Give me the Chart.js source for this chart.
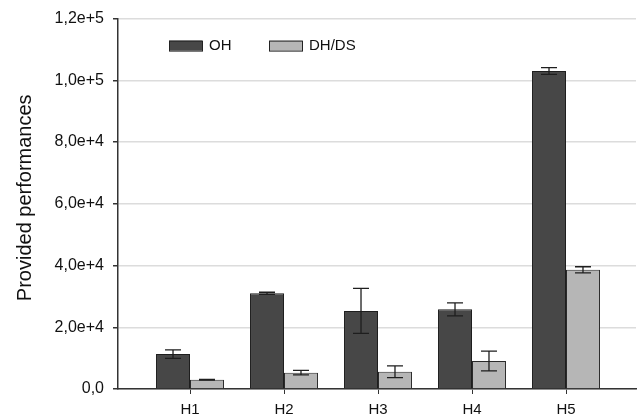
<!DOCTYPE html>
<html>
<head>
<meta charset="utf-8">
<script src="https://cdn.jsdelivr.net/npm/chart.js@4"></script>
<style>
  html, body { margin: 0; padding: 0; background: #fff; }
  #wrap { width: 638px; height: 416px; }
</style>
</head>
<body>
<div id="wrap"><canvas id="chart" width="638" height="416"></canvas></div>
<script>
const categories = ["H1", "H2", "H3", "H4", "H5"];
const ohValues = [11300, 31000, 25300, 25800, 103000];
const ohErrors = [1400, 350, 7300, 2100, 1100];
const dhValues = [3000, 5300, 5600, 9100, 38600];
const dhErrors = [150, 750, 1900, 3200, 1000];
const yTicks = [0, 20000, 40000, 60000, 80000, 100000, 120000];
const yTitle = "Provided performances";

const FONT = "'Liberation Sans', Arial, sans-serif";

function fmtTick(v) {
  if (v === 0) return "0,0";
  return v.toExponential(1).replace(".", ",");
}

// error bars, drawn from the dataset's own errors through the y scale
const errorBars = {
  id: "errorBars",
  afterDatasetsDraw(chart) {
    const ctx = chart.ctx;
    const y = chart.scales.y;
    ctx.save();
    ctx.strokeStyle = "#1e1e1e";
    ctx.lineWidth = 1.3;
    chart.data.datasets.forEach((ds, i) => {
      const meta = chart.getDatasetMeta(i);
      meta.data.forEach((bar, j) => {
        const v = ds.data[j].y;
        const e = ds.errors[j];
        const top = y.getPixelForValue(v + e);
        const bot = y.getPixelForValue(v - e);
        const cap = 8;
        ctx.beginPath();
        ctx.moveTo(bar.x, top); ctx.lineTo(bar.x, bot);
        ctx.moveTo(bar.x - cap, top); ctx.lineTo(bar.x + cap, top);
        ctx.moveTo(bar.x - cap, bot); ctx.lineTo(bar.x + cap, bot);
        ctx.stroke();
      });
    });
    ctx.restore();
  }
};

// legend inside the plot (top left) and the rotated y title
const innerLegend = {
  id: "innerLegend",
  afterDraw(chart) {
    const ctx = chart.ctx;
    const area = chart.chartArea;
    let x = area.left + 51;
    const yMid = area.top + 27;
    ctx.save();
    ctx.font = "15px " + FONT;
    ctx.textBaseline = "middle";
    chart.data.datasets.forEach(ds => {
      ctx.fillStyle = ds.backgroundColor;
      ctx.strokeStyle = "#222";
      ctx.lineWidth = 1;
      ctx.fillRect(x, yMid - 5, 33, 10);
      ctx.strokeRect(x + 0.5, yMid - 5 + 0.5, 33, 10);
      ctx.fillStyle = "#111";
      ctx.fillText(ds.label, x + 40, yMid);
      x += 100;
    });

    ctx.translate(25, (area.top + area.bottom) / 2 - 6);
    ctx.rotate(-Math.PI / 2);
    ctx.font = "20px " + FONT;
    ctx.textAlign = "center";
    ctx.fillStyle = "#111";
    ctx.fillText(yTitle, 0, 0);
    ctx.restore();
  }
};

const toPoints = vals => vals.map((v, i) => ({ x: i + 1, y: v }));

new Chart(document.getElementById("chart"), {
  type: "bar",
  data: {
    datasets: [
      {
        label: "OH",
        data: toPoints(ohValues),
        errors: ohErrors,
        backgroundColor: "#474747",
        borderColor: "#1e1e1e",
        borderWidth: 1,
        categoryPercentage: 0.723,
        barPercentage: 1
      },
      {
        label: "DH/DS",
        data: toPoints(dhValues),
        errors: dhErrors,
        backgroundColor: "#b6b6b6",
        borderColor: "#2a2a2a",
        borderWidth: 1,
        categoryPercentage: 0.723,
        barPercentage: 1
      }
    ]
  },
  options: {
    responsive: false,
    animation: false,
    layout: { padding: { top: 17, right: 2, left: 0, bottom: 0 } },
    plugins: {
      legend: { display: false },
      tooltip: { enabled: false }
    },
    scales: {
      x: {
        type: "linear",
        offset: false,
        min: 1 - 72 / 94,
        max: 5 + 70 / 94,
        afterFit(scale) { scale.height = 27; },
        afterBuildTicks(scale) { scale.ticks = categories.map((c, i) => ({ value: i + 1 })); },
        grid: { offset: false, drawOnChartArea: false, drawTicks: true, tickLength: 5, tickColor: "#333" },
        border: { color: "#333", width: 1.5 },
        ticks: {
          padding: 7,
          color: "#111",
          font: { family: FONT, size: 15 },
          callback: v => categories[v - 1]
        }
      },
      y: {
        min: 0,
        max: 120000,
        afterFit(scale) { scale.width = 118; },
        afterBuildTicks(scale) { scale.ticks = yTicks.map(v => ({ value: v })); },
        grid: { color: "#dcdcdc", lineWidth: 1.5, tickLength: 5, tickColor: "#333" },
        border: { color: "#333", width: 1.5 },
        ticks: {
          padding: 9,
          color: "#111",
          font: { family: FONT, size: 16 },
          callback: v => fmtTick(v)
        }
      }
    }
  },
  plugins: [errorBars, innerLegend]
});
</script>
</body>
</html>
